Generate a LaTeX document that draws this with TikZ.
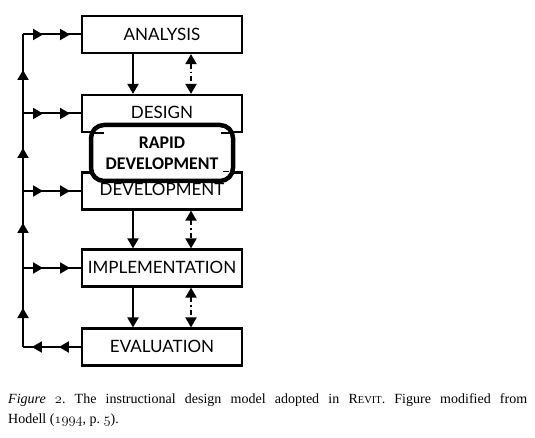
\documentclass[tikz,border=0pt]{standalone}
\usepackage{fontspec}
\newfontfamily\boxfont{Lato}
\newfontfamily\rapidfont{Carlito}
\newfontfamily\capfont{Liberation Serif}
\usetikzlibrary{arrows.meta,decorations.markings}
\newcommand\ofig[1]{{\usefont{OML}{cmm}{m}{it}#1}}
\begin{document}
\begin{tikzpicture}[x=1pt,y=-1pt,
  stage/.style={draw, line width=2.2pt, minimum width=160pt, minimum height=37pt, inner sep=0pt,
    font=\boxfont\fontsize{17}{20}\selectfont},
  conn/.style={line width=2pt},
  tipA/.style={-{Triangle[length=10pt,width=11pt]}},
  tipB/.style={{Triangle[length=10pt,width=11pt]}-{Triangle[length=10pt,width=11pt]}},
  dashdot/.style={dash pattern=on 5pt off 3pt on 1.5pt off 3pt},
  mk/.style 2 args={postaction={decorate, decoration={markings,
     mark=at position #1pt with {\arrow{Triangle[length=10pt,width=11pt]}},
     mark=at position #2pt with {\arrow{Triangle[length=10pt,width=11pt]}}}}},
  rapidbox/.style={draw, line width=4.5pt, rounded corners=13pt, fill=white,
    minimum width=142pt, minimum height=56pt, align=center,
    font=\rapidfont\bfseries\fontsize{17.8}{21}\selectfont}
]
\useasboundingbox (0,0) rectangle (535,438);

\node[stage] (ana) at (162,34.5) {\raisebox{1pt}{ANALYSIS}};
\node[stage] (des) at (162,113.5) {\raisebox{2pt}{DESIGN}};
\node[stage] (dev) at (162,191) {\raisebox{2.5pt}{DEVELOPMENT}};
\node[stage] (imp) at (162,268) {\raisebox{1pt}{IMPLEMENTATION}};
\node[stage] (eva) at (162,347) {\raisebox{1pt}{EVALUATION}};

% left feedback line
\coordinate (la) at (23,34.5);
\coordinate (ld) at (23,113.5);
\coordinate (lv) at (23,191);
\coordinate (li) at (23,268);
\coordinate (le) at (23,347);

\draw[conn, postaction={decorate, decoration={markings,
   mark=at position 39pt with {\arrow{Triangle[length=10pt,width=11pt]}},
   mark=at position 124pt with {\arrow{Triangle[length=10pt,width=11pt]}},
   mark=at position 199pt with {\arrow{Triangle[length=10pt,width=11pt]}},
   mark=at position 277pt with {\arrow{Triangle[length=10pt,width=11pt]}}}}]
  (le) -- (la);

\draw[conn, mk={20}{47}] (la) -- (ana.west);
\draw[conn, mk={20}{47}] (ld) -- (des.west);
\draw[conn, mk={20}{47}] (lv) -- (dev.west);
\draw[conn, mk={20}{47}] (li) -- (imp.west);
\draw[conn, mk={22}{49}] (eva.west) -- (le);

% vertical arrows
\draw[conn, tipA] ([xshift=-29pt]ana.south) -- ([xshift=-29pt]des.north);
\draw[conn, tipB, dashdot] ([xshift=29pt]ana.south) -- ([xshift=29pt]des.north);
\draw[conn, tipA] ([xshift=-29pt]dev.south) -- ([xshift=-29pt]imp.north);
\draw[conn, tipB, dashdot] ([xshift=29pt]dev.south) -- ([xshift=29pt]imp.north);
\draw[conn, tipA] ([xshift=-29pt]imp.south) -- ([xshift=-29pt]eva.north);
\draw[conn, tipB, dashdot] ([xshift=29pt]imp.south) -- ([xshift=29pt]eva.north);

% rapid development overlay
\node[rapidbox] (rap) at (162,153) {RAPID\\DEVELOPMENT};
\draw[line width=2pt] ([xshift=11pt]des.south west) -- ([xshift=23pt]des.south west);
\draw[line width=2pt] ([xshift=-22pt]des.south east) -- ([xshift=-9pt]des.south east);
\draw[line width=1.5pt] ([xshift=-20pt]dev.north east) -- ([xshift=-14pt]dev.north east);

% caption
\node[anchor=north west, text width=519pt, inner sep=0pt, align=justify,
  font=\capfont\fontsize{14}{19.5}\selectfont] (cap) at (8,393.5)
  {\frenchspacing\textit{Figure \ofig{2}}. The instructional design model adopted in R{\fontsize{10.5}{12}\selectfont EVIT}. Figure modified from\linebreak
   Hodell (\ofig{1994}, p.~\ofig{5}).};
\end{tikzpicture}
\end{document}
